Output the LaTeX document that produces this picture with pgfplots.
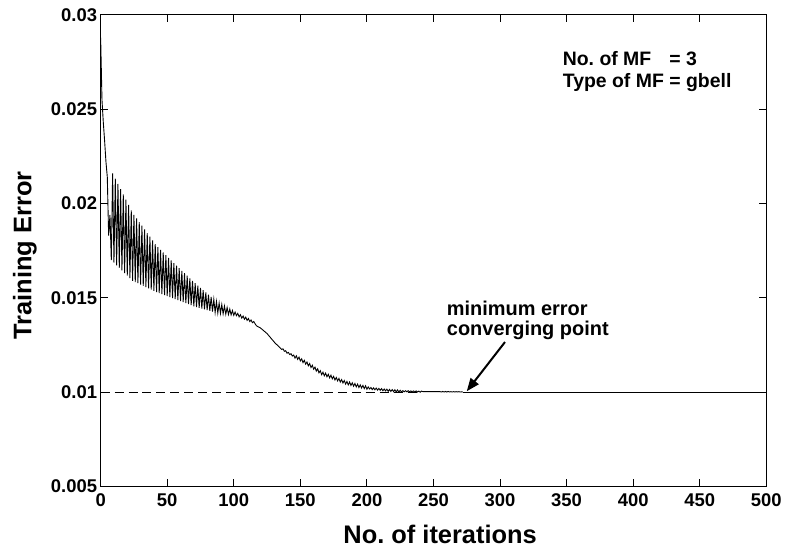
\documentclass[border=0pt]{standalone}
\usepackage{fontspec}
\setmainfont{Liberation Sans}
\usepackage{pgfplots}
\pgfplotsset{compat=1.18}
\usetikzlibrary{arrows.meta}
\frenchspacing
\begin{document}
\begin{tikzpicture}
\begin{axis}[
  scale only axis,
  width=668pt, height=473pt,
  xmin=0, xmax=500, ymin=0.005, ymax=0.03,
  axis line style={line width=1pt},
  every tick/.style={black, line width=1pt},
  tick align=inside, xtick pos=both, ytick pos=both,
  major tick length=7pt,
  xtick={0,50,100,150,200,250,300,350,400,450,500},
  xticklabels={0,50,100,150,200,250,300,350,400,450,500},
  ytick={0.005,0.01,0.015,0.02,0.025,0.03},
  yticklabels={0.005,0.01,0.015,0.02,0.025,0.03},
  scaled y ticks=false,
  ticklabel style={font=\fontsize{18.5}{20}\selectfont\bfseries},
  xticklabel style={yshift=-4pt},
  xlabel={No. of iterations},
  ylabel={Training Error},
  label style={font=\fontsize{25.5}{28}\selectfont\bfseries},
  xlabel style={at={(axis description cs:0.51,-0.1015)}, anchor=center},
  ylabel style={at={(axis description cs:-0.114,0.49)}, anchor=center},
  clip=true,
]
\addplot[black, line width=1pt, dash pattern=on 9pt off 5pt] coordinates {(0,0.01) (240,0.01)};
\addplot[black, line width=0.9pt] coordinates {
(0,0.0288)(1,0.0255)(2,0.0243)(3,0.0233)(4,0.0222)(5,0.0214)(6,0.0183)(7,0.0194)
(8,0.01700)(9,0.02160)(10,0.01686)(11,0.02132)(12,0.01672)(13,0.02104)(14,0.01659)(15,0.02076)
(16,0.01645)(17,0.02048)(18,0.01631)(19,0.02020)(20,0.01617)(21,0.01992)(22,0.01604)(23,0.01964)
(24,0.01590)(25,0.01940)(26,0.01583)(27,0.01921)(28,0.01577)(29,0.01901)(30,0.01570)(31,0.01882)
(32,0.01563)(33,0.01863)(34,0.01557)(35,0.01843)(36,0.01550)(37,0.01824)(38,0.01543)(39,0.01804)
(40,0.01537)(41,0.01785)(42,0.01530)(43,0.01768)(44,0.01525)(45,0.01754)(46,0.01519)(47,0.01740)
(48,0.01514)(49,0.01726)(50,0.01509)(51,0.01712)(52,0.01503)(53,0.01698)(54,0.01498)(55,0.01684)
(56,0.01493)(57,0.01670)(58,0.01487)(59,0.01657)(60,0.01482)(61,0.01643)(62,0.01477)(63,0.01630)
(64,0.01471)(65,0.01617)(66,0.01466)(67,0.01603)(68,0.01461)(69,0.01590)(70,0.01455)(71,0.01577)
(72,0.01450)(73,0.01564)(74,0.01446)(75,0.01552)(76,0.01442)(77,0.01540)(78,0.01438)(79,0.01528)
(80,0.01434)(81,0.01516)(82,0.01430)(83,0.01504)(84,0.01426)(85,0.01492)(86,0.01422)(87,0.01480)
(88,0.01419)(89,0.01472)(90,0.01417)(91,0.01464)(92,0.01415)(93,0.01456)(94,0.01413)(95,0.01448)
(96,0.01411)(97,0.01440)(98,0.01409)(99,0.01432)(100,0.01407)(101,0.01424)(102,0.01405)(103,0.01417)
(104,0.01399)(105,0.01410)(106,0.01392)(107,0.01403)(108,0.01386)(109,0.01397)(110,0.01380)(111,0.01390)
(112,0.01374)(113,0.01382)(114,0.01368)(115,0.01374)(116,0.01362)(117,0.01352)(118,0.01347)(120,0.01340)
(122,0.01328)(125,0.01310)(128,0.01285)(131,0.01260)(134,0.01240)(135,0.01233)
(136,0.01226)(137,0.01229)(138,0.01216)(139,0.01219)(140,0.01206)(141,0.01210)(142,0.01199)(143,0.01203)
(144,0.01191)(145,0.01196)(146,0.01180)(147,0.01192)(148,0.01173)(149,0.01185)(150,0.01165)(151,0.01176)
(152,0.01156)(153,0.01168)(154,0.01148)(155,0.01159)(156,0.01139)(157,0.01151)(158,0.01130)(159,0.01142)
(160,0.01121)(161,0.01132)(162,0.01111)(163,0.01123)(164,0.01102)(165,0.01113)(166,0.01092)(167,0.01105)
(168,0.01086)(169,0.01100)(170,0.01081)(171,0.01094)(172,0.01075)(173,0.01089)(174,0.01070)(175,0.01083)
(176,0.01064)(177,0.01077)(178,0.01059)(179,0.01072)(180,0.01053)(181,0.01066)(182,0.01048)(183,0.01061)
(184,0.01042)(185,0.01056)(186,0.01038)(187,0.01053)(188,0.01035)(189,0.01049)(190,0.01031)(191,0.01045)
(192,0.01027)(193,0.01042)(194,0.01024)(195,0.01038)(196,0.01021)(197,0.01035)(198,0.01018)(199,0.01033)
(200,0.01015)(201,0.01027)(202,0.01016)(203,0.01024)(204,0.01013)(205,0.01022)(206,0.01012)(207,0.01021)
(208,0.01010)(209,0.01019)(210,0.01009)(211,0.01018)(212,0.01007)(213,0.01016)(214,0.01006)(215,0.01015)
(216,0.01004)(217,0.01014)(218,0.01003)(219,0.01013)(220,0.01002)(221,0.01012)(222,0.01001)(223,0.01011)
(224,0.01000)(225,0.01009)(226,0.01001)(227,0.01007)(228,0.01001)(229,0.01007)(230,0.01001)(231,0.01007)
(232,0.01001)(233,0.01006)(234,0.01000)(235,0.01006)(236,0.01000)(237,0.01006)(238,0.01000)(239,0.01005)
(240,0.00999)(241,0.01005)(242,0.01002)(255,0.01002)(256,0.01000)(257,0.01003)(258,0.01000)(259,0.01003)
(260,0.01000)(261,0.01003)(262,0.01000)(263,0.01002)(264,0.01000)(265,0.01002)(266,0.01000)(267,0.01002)
(268,0.01000)(269,0.01002)(270,0.01000)(271,0.01001)(272,0.01000)
};
\addplot[black, line width=1pt] coordinates {(272,0.01000)(500,0.01000)};
\node[anchor=west, align=left, font=\fontsize{19.5}{23}\selectfont\bfseries, inner sep=0pt]
  at (axis cs:347,0.02698) {\begin{tabular}{@{}l@{ }l@{}}No. of MF & = 3\\[-1pt] Type of MF & = gbell\end{tabular}};
\node[anchor=west, align=left, font=\fontsize{20}{20}\selectfont\bfseries, inner sep=0pt]
  at (axis cs:260,0.01379) {minimum error\\converging point};
\draw[black, line width=2pt, -{Triangle[length=13pt,width=10pt]}] (axis cs:303.7,0.01265) -- (axis cs:275,0.01004);
\end{axis}
\path ([xshift=-101pt,yshift=-61pt]current axis.south west) rectangle ([xshift=16pt,yshift=15pt]current axis.north east);
\end{tikzpicture}
\end{document}
